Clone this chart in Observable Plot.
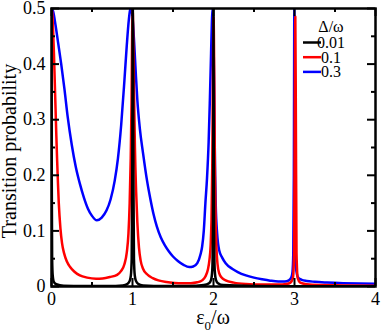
<!DOCTYPE html>
<html><head><meta charset="utf-8">
<script src="https://cdn.jsdelivr.net/npm/d3@7"></script>
<script src="https://cdn.jsdelivr.net/npm/@observablehq/plot@0.6"></script>
<style>
body{margin:0;background:#fff}
#chart svg, #chart svg text, #chart svg tspan { font-family: "Liberation Serif", "DejaVu Serif", serif !important; }
</style>
</head><body><div id="chart"></div>
<script>
// Legend / series
const legendTitle = "Δ/ω";
const seriesNames = ["0.01", "0.1", "0.3"];
const seriesColors = ["#000000", "#ff0000", "#0000ff"];

// Δ/ω = 0.01 (black)
const x001 = [0,0.003,0.008,0.015,0.03,0.06,0.15,0.4,0.7,0.88,0.94,0.965,0.98,0.99,0.997,1.001,1.004,1.007,1.011,1.018,1.028,1.043,1.068,1.13,1.4,1.7,1.88,1.945,1.97,1.985,1.993,1.997,2.0,2.003,2.007,2.015,2.03,2.055,2.12,2.5,3.0,3.5,4.0];
const p001 = [0.5,0.2,0.05,0.02,0.008,0.004,0.0015,0.0007,0.0008,0.002,0.005,0.01,0.02,0.05,0.2,0.45,0.5,0.45,0.2,0.05,0.02,0.01,0.005,0.002,0.0008,0.0008,0.0025,0.006,0.012,0.03,0.1,0.3,0.5,0.3,0.1,0.03,0.012,0.006,0.0025,0.0008,0.0004,0.0003,0.0003];

// Δ/ω = 0.1 (red)
const x01 = [0,0.01,0.02,0.03,0.04,0.05,0.06,0.07,0.08,0.09,0.11,0.13,0.155,0.19,0.23,0.28,0.35,0.44,0.55,0.63,0.72,0.81,0.86,0.90,0.93,0.95,0.965,0.978,0.988,0.995,1.002,1.01,1.02,1.03,1.045,1.06,1.08,1.10,1.13,1.18,1.25,1.32,1.42,1.52,1.62,1.72,1.80,1.86,1.90,1.93,1.95,1.965,1.975,1.985,1.993,2.001,2.009,2.017,2.026,2.036,2.05,2.07,2.10,2.15,2.25,2.40,2.60,2.80,2.90,2.95,2.98,2.995,3.003,3.01,3.017,3.025,3.04,3.07,3.15,3.30,3.60,4.00];
const p01 = [0.5,0.49,0.46,0.42,0.37,0.32,0.27,0.225,0.185,0.15,0.105,0.078,0.06,0.045,0.035,0.027,0.020,0.016,0.014,0.0145,0.017,0.021,0.028,0.04,0.062,0.095,0.15,0.23,0.33,0.44,0.5,0.44,0.34,0.25,0.17,0.115,0.07,0.047,0.032,0.022,0.015,0.011,0.008,0.0065,0.006,0.006,0.0075,0.011,0.018,0.03,0.048,0.075,0.12,0.22,0.38,0.485,0.38,0.22,0.12,0.07,0.04,0.024,0.016,0.011,0.007,0.0045,0.0035,0.0035,0.0045,0.007,0.015,0.06,0.3,0.485,0.3,0.06,0.015,0.007,0.004,0.0025,0.002,0.0015];

// Δ/ω = 0.3 (blue)
const x03 = [0,0.02,0.05,0.08,0.12,0.16,0.20,0.25,0.30,0.35,0.40,0.45,0.50,0.56,0.62,0.68,0.73,0.78,0.82,0.86,0.90,0.93,0.955,0.972,0.985,1.00,1.02,1.04,1.06,1.09,1.13,1.18,1.22,1.26,1.30,1.35,1.40,1.45,1.50,1.56,1.63,1.70,1.75,1.80,1.84,1.86,1.88,1.90,1.92,1.94,1.955,1.97,1.98,1.988,1.995,2.003,2.012,2.02,2.028,2.045,2.07,2.107,2.15,2.23,2.30,2.40,2.50,2.60,2.70,2.80,2.88,2.93,2.96,2.975,2.985,2.992,2.998,3.004,3.01,3.018,3.03,3.05,3.09,3.15,3.25,3.40,3.60,3.80,4.00];
const p03 = [0.5,0.495,0.47,0.44,0.40,0.355,0.305,0.255,0.215,0.185,0.160,0.140,0.127,0.119,0.124,0.137,0.157,0.190,0.230,0.290,0.370,0.435,0.48,0.498,0.5,0.485,0.44,0.385,0.335,0.285,0.24,0.19,0.158,0.13,0.108,0.088,0.074,0.063,0.054,0.046,0.039,0.035,0.036,0.042,0.058,0.072,0.10,0.15,0.195,0.26,0.335,0.42,0.475,0.5,0.48,0.42,0.3,0.2,0.145,0.095,0.065,0.052,0.042,0.032,0.026,0.020,0.016,0.013,0.0105,0.009,0.009,0.011,0.016,0.026,0.06,0.2,0.5,0.2,0.07,0.035,0.022,0.015,0.012,0.010,0.0085,0.0072,0.006,0.0053,0.005];

// Axes
const xTicks = [0, 1, 2, 3, 4];
const xMinor = [0.5, 1.5, 2.5, 3.5];
const yTicks = [0, 0.1, 0.2, 0.3, 0.4, 0.5];
const yTickLabels = ["0", "0.1", "0.2", "0.3", "0.4", "0.5"];
const yMinor = [0.05, 0.15, 0.25, 0.35, 0.45];
const yLabel = "Transition probability";

const W = 382, H = 332, mL = 51, mR = 7, mT = 8, mB = 46;
const iw = W - mL - mR, ih = H - mT - mB;
const MAJ = 8, MIN = 4;

const toRows = (xs, ps) => xs.map((x, i) => ({x, p: ps[i]}));
const series = [toRows(x001, p001), toRows(x01, p01), toRows(x03, p03)];
const lineOpts = (k) => ({x: "x", y: "p", stroke: seriesColors[k], strokeWidth: 2.5, curve: "monotone-x", clip: true});

const chart = Plot.plot({
  width: W, height: H,
  marginLeft: mL, marginRight: mR, marginTop: mT, marginBottom: mB,
  style: {fontSize: "18px", background: "#fff", color: "#000", overflow: "visible"},
  x: {domain: [0, 4], ticks: xTicks, tickSize: 0, tickPadding: 6, tickFormat: d => String(d), label: null},
  y: {domain: [0, 0.5], ticks: yTicks, tickSize: 0, tickPadding: 6, tickFormat: d => yTickLabels[yTicks.indexOf(d)], label: null},
  marks: [
    Plot.line(series[2], lineOpts(2)),
    Plot.line(series[1], lineOpts(1)),
    Plot.line(series[0], lineOpts(0)),
    Plot.tickX(xTicks, {stroke: "#000", strokeWidth: 2, insetTop: ih - MAJ}),
    Plot.tickX(xTicks, {stroke: "#000", strokeWidth: 2, insetBottom: ih - MAJ}),
    Plot.tickX(xMinor, {stroke: "#000", strokeWidth: 2, insetTop: ih - MIN}),
    Plot.tickX(xMinor, {stroke: "#000", strokeWidth: 2, insetBottom: ih - MIN}),
    Plot.tickY(yTicks, {stroke: "#000", strokeWidth: 2, insetRight: iw - MAJ}),
    Plot.tickY(yTicks, {stroke: "#000", strokeWidth: 2, insetLeft: iw - MAJ}),
    Plot.tickY(yMinor, {stroke: "#000", strokeWidth: 2, insetRight: iw - MIN}),
    Plot.tickY(yMinor, {stroke: "#000", strokeWidth: 2, insetLeft: iw - MIN}),
    Plot.frame({stroke: "#000", strokeWidth: 2.5})
  ]
});
document.getElementById("chart").appendChild(chart);

const svg = d3.select(chart);
// x-axis label with subscript
const xl = svg.append("text")
  .attr("x", mL + iw / 2).attr("y", 324)
  .attr("text-anchor", "middle")
  .style("font-size", "20px").attr("fill", "#000");
xl.append("tspan").text("ε");
xl.append("tspan").attr("dy", 6).style("font-size", "13px").text("0");
xl.append("tspan").attr("dy", -6).text("/ω");

// y-axis label
svg.append("text")
  .attr("transform", `translate(16,${mT + ih / 2 + 4}) rotate(-90)`)
  .attr("text-anchor", "middle")
  .style("font-size", "20px").attr("fill", "#000")
  .text(yLabel);

// legend
const lg = svg.append("g").style("font-size", "16px");
lg.append("text").attr("x", 331).attr("y", 32).text(legendTitle);
seriesNames.forEach((name, i) => {
  const yy = 42.5 + i * 14.7;
  lg.append("line").attr("x1", 303).attr("x2", 321).attr("y1", yy).attr("y2", yy)
    .attr("stroke", seriesColors[i]).attr("stroke-width", 2.5);
  lg.append("text").attr("x", 331).attr("y", yy + 5.3).text(name);
});
</script>
</body></html>
